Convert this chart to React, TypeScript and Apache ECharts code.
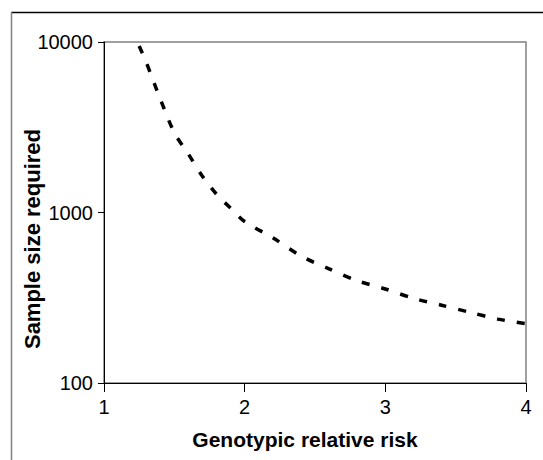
import React, { useEffect, useRef } from "react";
import * as echarts from "echarts";

const riskValues = [1.25, 1.3, 1.4, 1.5, 1.6, 1.7, 1.8, 1.9, 2.0, 2.2, 2.4, 2.6, 2.8, 3.0, 3.2, 3.4, 3.6, 3.8, 4.0];
const sampleSizes = [9480, 7610, 4640, 2940, 2200, 1630, 1280, 1060, 885, 711, 556, 467, 398, 356, 314, 286, 260, 237, 223];
const xTickValues = [1, 2, 3, 4];
const yTickValues = [100, 1000, 10000];
const xTitle = "Genotypic relative risk";
const yTitle = "Sample size required";

const FONT = "'Liberation Sans', Arial, sans-serif";

export default function App() {
  const ref = useRef<HTMLDivElement>(null);
  useEffect(() => {
    document.body.style.margin = "0";
    const chart = echarts.init(ref.current!, null, { renderer: "svg" });
    chart.setOption({
      animation: false,
      backgroundColor: "#ffffff",
      textStyle: { fontFamily: FONT },
      grid: {
        left: 104,
        right: 17,
        top: 42,
        bottom: 77,
        show: true,
        borderColor: "#808080",
        borderWidth: 1.5,
        backgroundColor: "transparent",
      },
      xAxis: {
        type: "value",
        min: xTickValues[0],
        max: xTickValues[xTickValues.length - 1],
        interval: 1,
        axisLine: { show: true, onZero: false, lineStyle: { color: "#000", width: 1 } },
        axisTick: { show: true, inside: false, length: 9, lineStyle: { color: "#000" } },
        axisLabel: { fontSize: 20, color: "#000", margin: 14, fontFamily: FONT },
        splitLine: { show: false },
      },
      yAxis: {
        type: "log",
        logBase: 10,
        min: yTickValues[0],
        max: yTickValues[yTickValues.length - 1],
        axisLine: { show: true, lineStyle: { color: "#000", width: 1 } },
        axisTick: { show: true, inside: false, length: 6, lineStyle: { color: "#000" } },
        axisLabel: {
          fontSize: 20,
          color: "#000",
          margin: 11,
          fontFamily: FONT,
          formatter: (v: number) => String(Math.round(v)),
        },
        splitLine: { show: false },
        minorTick: { show: false },
      },
      graphic: [
        {
          type: "line",
          shape: { x1: 11, y1: 12.5, x2: 543, y2: 12.5 },
          style: { stroke: "#000", lineWidth: 1.5 },
        },
        {
          type: "line",
          shape: { x1: 11.5, y1: 12, x2: 11.5, y2: 460 },
          style: { stroke: "#808080", lineWidth: 1.5 },
        },
        {
          type: "text",
          x: 305,
          y: 439,
          style: {
            text: xTitle,
            font: `bold 21px ${FONT}`,
            fill: "#000",
            align: "center",
            verticalAlign: "middle",
          },
        },
        {
          type: "text",
          x: 32,
          y: 239,
          rotation: Math.PI / 2,
          style: {
            text: yTitle,
            font: `bold 22px ${FONT}`,
            fill: "#000",
            align: "center",
            verticalAlign: "middle",
          },
        },
      ],
      series: [
        {
          type: "line",
          data: riskValues.map((x, i) => [x, sampleSizes[i]]),
          showSymbol: false,
          symbol: "none",
          smooth: 0.3,
          lineStyle: { color: "#000", width: 3.5, type: [8, 12] },
        },
      ],
    });
    return () => chart.dispose();
  }, []);
  return <div ref={ref} style={{ width: 543, height: 460 }} />;
}
